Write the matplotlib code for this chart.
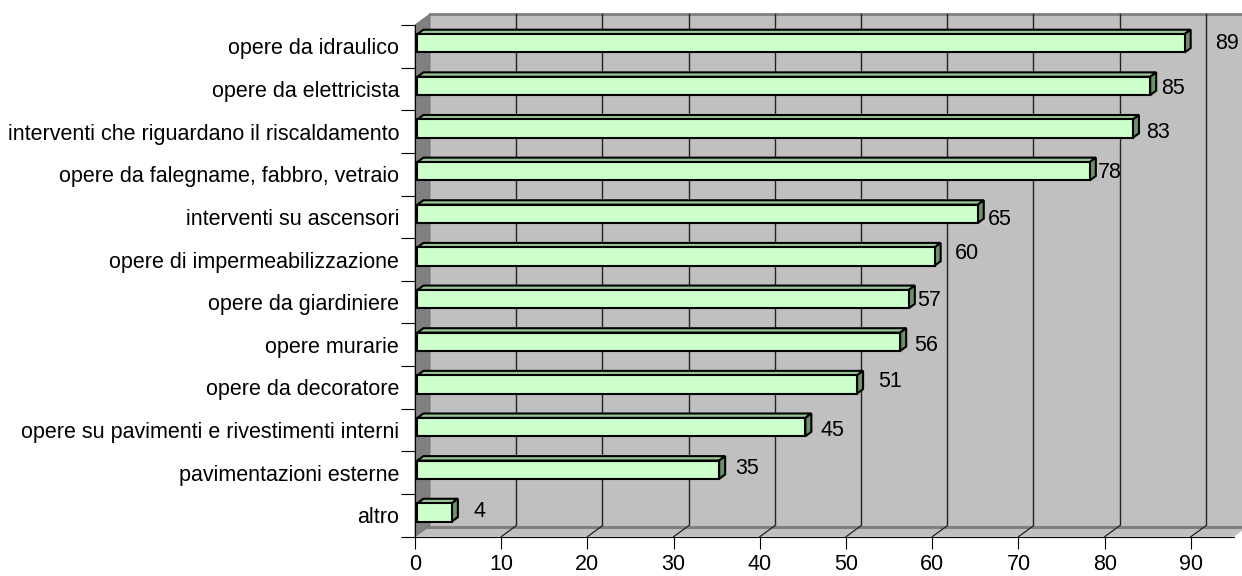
import numpy as np
import matplotlib.pyplot as plt
from matplotlib.patches import Polygon

categories = [
    "opere da idraulico",
    "opere da elettricista",
    "interventi che riguardano il riscaldamento",
    "opere da falegname, fabbro, vetraio",
    "interventi su ascensori",
    "opere di impermeabilizzazione",
    "opere da giardiniere",
    "opere murarie",
    "opere da decoratore",
    "opere su pavimenti e rivestimenti interni",
    "pavimentazioni esterne",
    "altro",
]
values = [89, 85, 83, 78, 65, 60, 57, 56, 51, 45, 35, 4]
x_ticks = list(range(0, 100, 10))

# where each value label sits next to its bar (pixels: right, up)
label_offsets = [(24, 5), (5, 3), (7, 2), (2, 4), (4, 0), (14, 9),
                 (2, 4), (8, 2), (15, 8), (9, 2), (10, 7), (16, 6)]

plt.rcParams['font.family'] = ['Liberation Sans', 'DejaVu Sans']
FS = 15.5

fig = plt.figure(figsize=(12.42, 5.76), dpi=100)
ax = fig.add_axes([415 / 1242, 1 - 536.7 / 576, 819 / 1242, 511.7 / 576])
ax.patch.set_visible(False)

n = len(categories)
XMAX = 95
ax.set_xlim(0, XMAX)
ax.set_ylim(n - 0.5, -0.5)

# oblique depth offsets (data units) for the 3d look
DX, DY = 1.74, 0.258


def proj(x, y, z):
    return (x + z * DX, y - z * DY)


def face(pts, color, zorder, ec='none', lw=0.0):
    ax.add_patch(Polygon(pts, closed=True, facecolor=color, edgecolor=ec,
                         linewidth=lw, zorder=zorder, clip_on=False,
                         joinstyle='miter'))


top, bot = -0.5, n - 0.5

# back wall + gridlines
face([proj(0, top, 1), proj(XMAX, top, 1), proj(XMAX, bot, 1), proj(0, bot, 1)], '#c0c0c0', 0)
p0, p1 = proj(0, top, 1), proj(XMAX, top, 1)
ax.plot([p0[0], p1[0]], [p0[1], p1[1]], color='#808080', lw=2, clip_on=False, zorder=0.5)
for t in x_ticks[1:]:
    a, b = proj(t, top, 1), proj(t, bot, 1)
    ax.plot([a[0], b[0]], [a[1], b[1]], color='#222222', lw=1, clip_on=False, zorder=1)

# floor
face([proj(0, bot, 0), proj(XMAX, bot, 0), proj(XMAX, bot, 1), proj(0, bot, 1)], '#c0c0c0', 2)
a, b = proj(0, bot, 0.88), proj(XMAX, bot, 0.88)
ax.plot([a[0], b[0]], [a[1], b[1]], color='#808080', lw=2.2, clip_on=False, zorder=2.1)
for t in x_ticks[1:]:
    a, b = proj(t, bot, 0), proj(t, bot, 1)
    ax.plot([a[0], b[0]], [a[1], b[1]], color='#222222', lw=0.9, clip_on=False, zorder=2.2)

# left side wall
face([proj(0, top, 0), proj(0, top, 1), proj(0, bot, 1), proj(0, bot, 0)], '#808080', 3,
     ec='#707070', lw=0.6)

# bars
Z0, Z1 = 0.16, 0.56
for i, v in enumerate(values):
    y0, y1 = i - 0.245, i + 0.185
    face([proj(0, y0, Z0), proj(v, y0, Z0), proj(v, y0, Z1), proj(0, y0, Z1)],
         '#99c799', 4, ec='black', lw=1.5)
    face([proj(v, y0, Z0), proj(v, y0, Z1), proj(v, y1, Z1), proj(v, y1, Z0)],
         '#6f8f6f', 4, ec='black', lw=1.5)
    face([proj(0, y0, Z0), proj(v, y0, Z0), proj(v, y1, Z0), proj(0, y1, Z0)],
         '#ccffcc', 4.1, ec='black', lw=1.5)
    gx, gy = label_offsets[i]
    ax.annotate(str(v), xy=(v + Z1 * DX, i), xytext=(gx, gy), textcoords='offset pixels',
                ha='left', va='center_baseline', fontsize=FS, zorder=6,
                annotation_clip=False)

# axes
for s in ['top', 'right']:
    ax.spines[s].set_visible(False)
for s in ['left', 'bottom']:
    ax.spines[s].set_color('black')
    ax.spines[s].set_linewidth(0.8)
    ax.spines[s].set_zorder(5)

ax.set_xticks(x_ticks)
ax.set_xticklabels([str(t) for t in x_ticks], fontsize=FS)
ax.tick_params(axis='x', direction='out', length=8.6, width=0.8, pad=3.5, colors='black')

ax.set_yticks(range(n))
ax.set_yticklabels(categories, fontsize=FS)
ax.tick_params(axis='y', which='major', length=0, pad=11.5)
ax.set_yticks(np.arange(-0.5, n, 1), minor=True)
ax.tick_params(axis='y', which='minor', direction='out', length=10, width=0.8, colors='black')

fig.savefig('out.png', dpi=100)
